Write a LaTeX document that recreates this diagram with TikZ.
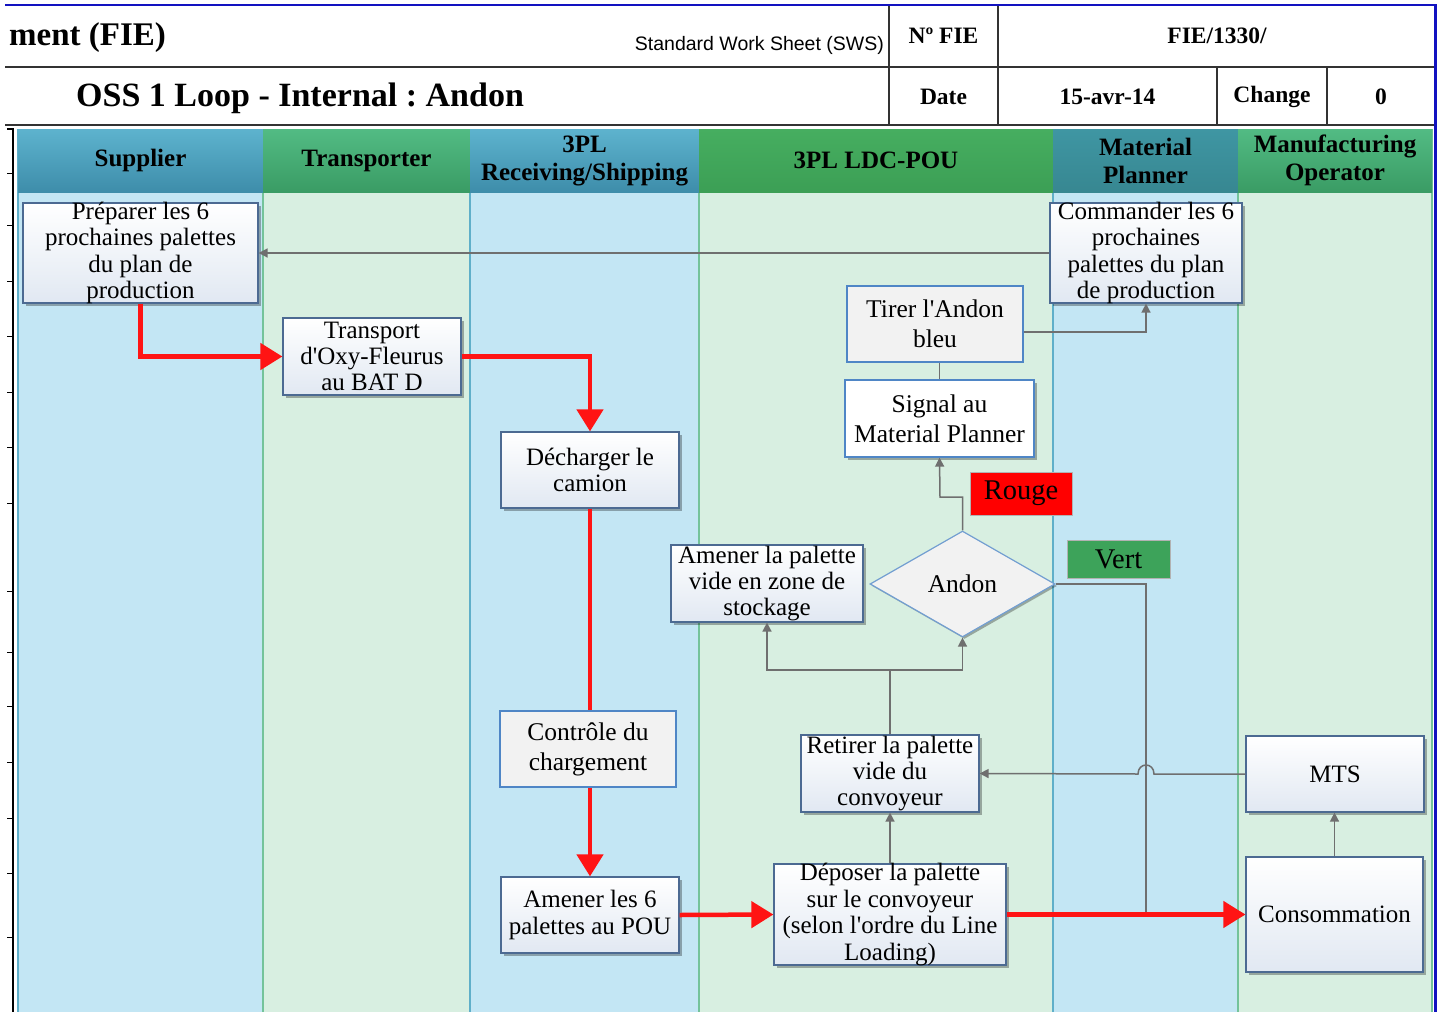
\documentclass[tikz,border=0pt]{standalone}
\usepackage{fontspec}
\setmainfont{Liberation Serif}
\newfontfamily\sansf{Liberation Sans}
\usetikzlibrary{arrows.meta,shapes.geometric,shadows}
\frenchspacing

\definecolor{lanebl}{HTML}{C3E6F4}
\definecolor{lanegr}{HTML}{D8EFE1}
\definecolor{edgebl}{HTML}{5FAFC9}
\definecolor{edgegr}{HTML}{74C39A}
\definecolor{boxedge}{HTML}{4C6A92}
\definecolor{boxbot}{HTML}{E1E8F2}
\definecolor{flatedge}{HTML}{4F86C6}
\definecolor{flatfill}{HTML}{F2F2F2}
\definecolor{conn}{HTML}{6F6F6F}
\definecolor{redarr}{HTML}{FF1414}
\definecolor{vertc}{HTML}{3DA35A}
\definecolor{bordblue}{HTML}{1212C0}
\definecolor{gridc}{HTML}{333333}
\definecolor{hbTop}{HTML}{5DB3CE}
\definecolor{hbBot}{HTML}{3E8DAA}
\definecolor{hgTop}{HTML}{52BB84}
\definecolor{hgBot}{HTML}{3A9C64}
\definecolor{hlTop}{HTML}{46AE60}
\definecolor{hlBot}{HTML}{3C9F55}
\definecolor{hmTop}{HTML}{3F96A3}
\definecolor{hmBot}{HTML}{378791}

\newcommand\fitbox[3]{\parbox[c][#2][c]{#1}{\centering #3}}
\newcommand\apos{\textquotesingle}

\tikzset{
  txt/.style={inner sep=0pt},
  cell/.style={txt, font=\bfseries\fontsize{23.5}{26}\selectfont},
  lanehead/.style={inner sep=0pt, align=center, font=\bfseries\fontsize{25}{28}\selectfont, minimum height=63pt},
  proc/.style={draw=boxedge, line width=1.2pt, top color=white, bottom color=boxbot, inner sep=0pt,
    drop shadow={shadow xshift=2.5pt, shadow yshift=-2.5pt, fill=black, opacity=.3}},
  flatbox/.style={draw=flatedge, line width=1.2pt, fill=flatfill, inner sep=0pt},
  whitebox/.style={draw=flatedge, line width=1.2pt, fill=white, inner sep=0pt,
    drop shadow={shadow xshift=2.5pt, shadow yshift=-2.5pt, fill=black, opacity=.3}},
  tagbox/.style={draw=black!30, line width=.8pt, inner sep=0pt, font=\fontsize{28.5}{30}\selectfont},
  gline/.style={draw=conn, line width=1.5pt},
  garr/.style={gline, -{Triangle[length=9pt,width=9pt]}},
  rline/.style={draw=redarr, line width=4.5pt},
  rarr/.style={rline, -{Triangle[length=22pt,width=26pt]}},
}

\begin{document}
\begin{tikzpicture}[x=1pt,y=-1pt]
\useasboundingbox (0,0) rectangle (1441,1012);
\fill[white] (0,0) rectangle (1441,1012);
\clip (0,0) rectangle (1441,1012);

% ---- lanes bodies ----
\fill[lanebl] (18,192) rectangle (263,1012);
\fill[lanegr] (263,192) rectangle (470,1012);
\fill[lanebl] (470,192) rectangle (699,1012);
\fill[lanegr] (699,192) rectangle (1053,1012);
\fill[lanebl] (1053,192) rectangle (1238,1012);
\fill[lanegr] (1238,192) rectangle (1432,1012);
\draw[edgebl, line width=1.5pt] (18,129) -- (18,1012);
\draw[edgegr, line width=1.5pt] (263,129) -- (263,1012);
\draw[edgebl, line width=1.5pt] (470,129) -- (470,1012);
\draw[edgegr, line width=1.5pt] (699,129) -- (699,1012);
\draw[edgebl, line width=1.5pt] (1053,129) -- (1053,1012);
\draw[edgegr, line width=1.5pt] (1238,129) -- (1238,1012);
\draw[edgegr, line width=1.5pt] (1432,129) -- (1432,1012);

% ---- lane headers ----
\node[lanehead, minimum width=245pt, top color=hbTop, bottom color=hbBot] (hsup) at (140.5,160.5) {Supplier};
\node[lanehead, minimum width=207pt, top color=hgTop, bottom color=hgBot] (htra) at (366.5,160.5) {Transporter};
\node[lanehead, minimum width=229pt, top color=hbTop, bottom color=hbBot] (hrec) at (584.5,160.5) {3PL\\Receiving/Shipping};
\node[lanehead, minimum width=354pt, top color=hlTop, bottom color=hlBot] (hldc) at (876,160.5) {3PL LDC-POU};
\node[lanehead, minimum width=185pt, top color=hmTop, bottom color=hmBot] (hmp) at (1145.5,160.5) {Material\\Planner};
\node[lanehead, minimum width=194pt, top color=hgTop, bottom color=hgBot] (hmo) at (1335,160.5) {Manufacturing\\Operator};

% ---- sheet header ----
\draw[gridc, line width=1.3pt] (5,67) -- (1437,67);
\draw[gridc, line width=1.3pt] (5,125) -- (1437,125);
\draw[gridc, line width=1.3pt] (889,5) -- (889,125);
\draw[gridc, line width=1.3pt] (998,5) -- (998,125);
\draw[gridc, line width=1.3pt] (1217,67) -- (1217,125);
\draw[gridc, line width=1.3pt] (1327,67) -- (1327,125);
\draw[bordblue, line width=2pt] (5,5) -- (1437,5);
\draw[bordblue, line width=3.5pt] (1435.5,5) -- (1435.5,1012);

\node[txt, anchor=west, font=\bfseries\fontsize{33}{36}\selectfont] (fie) at (9,38) {ment (FIE)};
\node[txt, anchor=east, font=\sansf\fontsize{19.5}{22}\selectfont] (sws) at (884,45) {Standard Work Sheet (SWS)};
\node[cell] (nfie) at (943.5,36) {Nº FIE};
\node[cell] (fienum) at (1217,36) {FIE/1330/};
\node[cell] (date) at (943.5,97) {Date};
\node[cell] (dval) at (1107.5,97) {15-avr-14};
\node[cell] (chg) at (1272,97) {Change};
\node[cell] (zero) at (1381,97) {0};
\node[txt, anchor=west, font=\bfseries\fontsize{34}{36}\selectfont] (title) at (76,98) {OSS 1 Loop - Internal : Andon};

% ---- left ruler ----
\draw[black, line width=1.3pt] (7,129) -- (13,129) -- (13,1012);
\foreach \ty in {173,225,281,336,392,447,503,591,652,706,762,818,873,937}
  \draw[black, line width=1pt] (7,\ty) -- (13,\ty);

% ---- process boxes ----
\begin{scope}[font=\fontsize{25}{26.4}\selectfont]
\node[proc, minimum width=235pt, minimum height=100pt] (prep) at (140.5,253)
  {\fitbox{230pt}{90pt}{Préparer les 6\\prochaines palettes\\du plan de\\production}};
\node[proc, minimum width=178pt, minimum height=77pt] (trans) at (372,356.5)
  {\fitbox{175pt}{70pt}{Transport\\d\apos Oxy-Fleurus\\au BAT D}};
\node[proc, minimum width=178pt, minimum height=76pt] (dech) at (590,470)
  {\fitbox{175pt}{70pt}{Décharger le\\camion}};
\node[proc, minimum width=178pt, minimum height=76pt] (amen6) at (590,915)
  {\fitbox{175pt}{70pt}{Amener les 6\\palettes au POU}};
\node[proc, minimum width=232pt, minimum height=101pt] (depo) at (890,914.5)
  {\fitbox{230pt}{90pt}{Déposer la palette\\sur le convoyeur\\(selon l\apos ordre du Line\\Loading)}};
\node[proc, minimum width=178pt, minimum height=77pt] (retir) at (890,773.5)
  {\fitbox{175pt}{70pt}{Retirer la palette\\vide du\\convoyeur}};
\node[proc, minimum width=192pt, minimum height=77pt] (amvide) at (767,583.5)
  {\fitbox{190pt}{70pt}{Amener la palette\\vide en zone de\\stockage}};
\node[proc, minimum width=192pt, minimum height=100pt] (cmd) at (1146,253)
  {\fitbox{190pt}{90pt}{Commander les 6\\prochaines\\palettes du plan\\de production}};
\node[proc, minimum width=178pt, minimum height=76pt] (mts) at (1335,774) {MTS};
\node[proc, minimum width=177pt, minimum height=115pt] (conso) at (1334.5,914.5) {Consommation};
\end{scope}

\begin{scope}[font=\fontsize{25.5}{30}\selectfont]
\node[flatbox, minimum width=176pt, minimum height=76pt] (ctrl) at (588,749)
  {\fitbox{170pt}{70pt}{Contrôle du\\chargement}};
\node[flatbox, minimum width=176pt, minimum height=76pt] (tirer) at (935,324)
  {\fitbox{170pt}{70pt}{Tirer l\apos Andon\\bleu}};
\node[whitebox, minimum width=189pt, minimum height=77pt] (signal) at (939.5,418.5)
  {\fitbox{185pt}{70pt}{Signal au\\Material Planner}};
\node[diamond, draw=flatedge!80, line width=1.2pt, fill=flatfill, inner sep=0pt,
  minimum width=185pt, minimum height=106pt,
  drop shadow={shadow xshift=2pt, shadow yshift=-2pt, fill=black, opacity=.3}] (andon) at (962.5,584) {Andon};
\end{scope}

\node[tagbox, fill=red, minimum width=102pt, minimum height=43pt] (rouge) at (1021,493.5) {Rouge};
\node[tagbox, fill=vertc, minimum width=103pt, minimum height=38pt] (vert) at (1118.5,559) {Vert};

% ---- gray connectors ----
\coordinate (rk) at (940,497);
\coordinate (vx) at (1146,584);
\coordinate (split) at (890,670);
\coordinate (hopR) at (1154,774);
\coordinate (hopL) at (1138,774);

\draw[garr] (cmd.west) -- (prep.east);
\draw[garr] ([yshift=-8pt]tirer.east) -| (cmd.south);
\draw[gline] (signal.north) -- (signal.north |- tirer.south);
\draw[garr] (andon.north) |- (rk) -- (signal.south);
\draw[garr] (andon.east) -- (vx) -- (vx |- conso.west) -- (conso.west);
\draw[garr] (mts.west) -- (hopR) .. controls (1154,762) and (1138,762) .. (hopL) -- (retir.east);
\draw[garr] (conso.north) -- (conso.north |- mts.south);
\draw[garr] (depo.north) -- (retir.south);
\draw[gline] (retir.north) -- (split);
\draw[garr] (split) -| (amvide.south);
\draw[garr] (split) -| (andon.south);

% ---- red flow ----
\draw[rarr] (prep.south) |- (trans.west);
\draw[rarr] (trans.east) -| (dech.north);
\draw[rline] (dech.south) -- (dech.south |- ctrl.north);
\draw[rarr] (amen6.north |- ctrl.south) -- (amen6.north);
\draw[rarr] (amen6.east) -- (depo.west);
\draw[rarr] (depo.east) -- (conso.west);
\end{tikzpicture}
\end{document}
